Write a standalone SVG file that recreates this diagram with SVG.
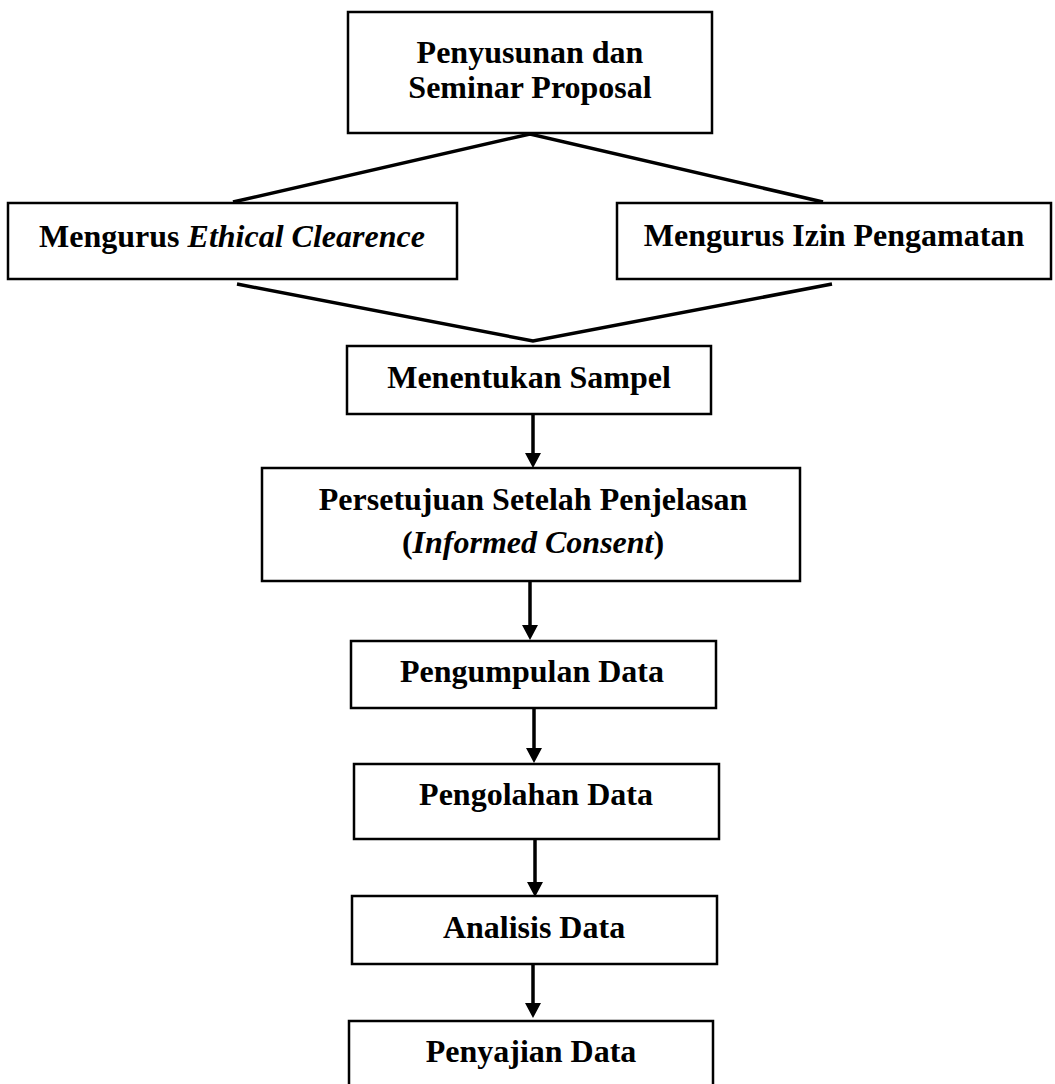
<svg xmlns="http://www.w3.org/2000/svg" width="1055" height="1084" viewBox="0 0 1055 1084">
<style>
.box{fill:#fff;stroke:#000;stroke-width:2.5}
.t{font-family:"Liberation Serif","Times New Roman",serif;font-size:32px;font-weight:bold;fill:#000;text-anchor:middle}
.i{font-style:italic}
.ln{stroke:#000;stroke-width:3.5;fill:none}
.ar{stroke:#000;stroke-width:3.5;fill:none;marker-end:url(#ah)}
</style>
<defs>
<marker id="ah" markerUnits="userSpaceOnUse" markerWidth="15" markerHeight="16" refX="6" refY="8" orient="auto">
<path d="M0,0 L15,8 L0,16 Z" fill="#000"/>
</marker>
</defs>
<rect width="1055" height="1084" fill="#fff"/>
<g id="connectors">
<polyline class="ln" points="233,202 530,134 823,202"/>
<polyline class="ln" points="237,284 533,341 832,284"/>
<line class="ar" x1="533" y1="414" x2="533" y2="459"/>
<line class="ar" x1="530" y1="581" x2="530" y2="631"/>
<line class="ar" x1="534" y1="706" x2="534" y2="754"/>
<line class="ar" x1="535" y1="840" x2="535" y2="888"/>
<line class="ar" x1="533" y1="959" x2="533" y2="1009"/>
</g>
<g id="n1">
<rect class="box" x="348" y="12" width="364" height="121"/>
<text class="t" x="530" y="63">Penyusunan dan</text>
<text class="t" x="530" y="98">Seminar Proposal</text>
</g>
<g id="n2">
<rect class="box" x="8" y="203" width="449" height="76"/>
<text class="t" x="232" y="247">Mengurus <tspan class="i">Ethical Clearence</tspan></text>
</g>
<g id="n3">
<rect class="box" x="617" y="203" width="434" height="76"/>
<text class="t" x="834" y="246">Mengurus Izin Pengamatan</text>
</g>
<g id="n4">
<rect class="box" x="347" y="346" width="364" height="68"/>
<text class="t" x="529" y="388">Menentukan Sampel</text>
</g>
<g id="n5">
<rect class="box" x="262" y="468" width="538" height="113"/>
<text class="t" x="533" y="510">Persetujuan Setelah Penjelasan</text>
<text class="t" x="533" y="553">(<tspan class="i">Informed Consent</tspan>)</text>
</g>
<g id="n6">
<rect class="box" x="351" y="641" width="365" height="67"/>
<text class="t" x="532" y="682">Pengumpulan Data</text>
</g>
<g id="n7">
<rect class="box" x="354" y="764" width="365" height="75"/>
<text class="t" x="536" y="805">Pengolahan Data</text>
</g>
<g id="n8">
<rect class="box" x="352" y="896" width="365" height="68"/>
<text class="t" x="534" y="938">Analisis Data</text>
</g>
<g id="n9">
<rect class="box" x="349" y="1021" width="364" height="80"/>
<text class="t" x="531" y="1062">Penyajian Data</text>
</g>
</svg>
